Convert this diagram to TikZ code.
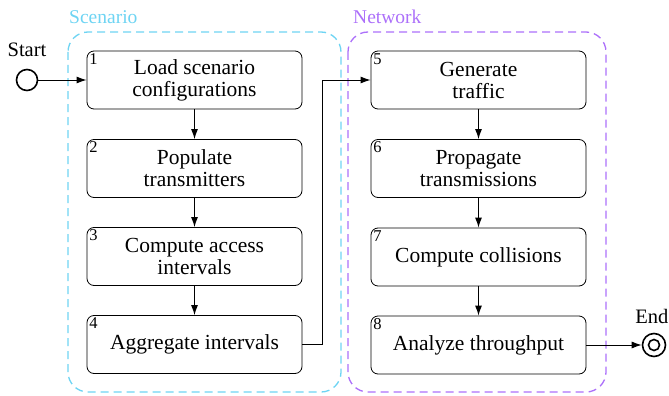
\documentclass[tikz,border=0pt]{standalone}
\usepackage{fontspec}
\setmainfont{Liberation Serif}
\usetikzlibrary{arrows.meta}

\definecolor{scenariocol}{RGB}{110,212,243}
\definecolor{networkcol}{RGB}{172,112,250}

\tikzset{
  stepbox/.style={draw, rounded corners=7pt, minimum width=215pt, minimum height=58pt,
    align=center, line width=0.8pt, font=\fontsize{21.5}{22}\selectfont},
  stepnum/.style={anchor=north west, inner sep=2.5pt, font=\fontsize{16.5}{16.5}\selectfont},
  groupbox/.style={dash pattern=on 8pt off 5pt, line width=1.3pt, rounded corners=20pt},
  grouplabel/.style={anchor=west, inner sep=0pt, font=\fontsize{19.5}{19.5}\selectfont},
  flow/.style={line width=1pt, -{Latex[length=10pt,width=7pt]}},
}

\begin{document}
\begin{tikzpicture}[x=1pt,y=1pt,yscale=-1]
\useasboundingbox (0,0) rectangle (669,396);

%Groups
\draw [groupbox, scenariocol] (68,32) rectangle (341,392);
\node [grouplabel, text=scenariocol] (lblscen) at (69,17) {Scenario};
\draw [groupbox, networkcol] (348,32) rectangle (606,392);
\node [grouplabel, text=networkcol] (lblnet) at (353,17) {Network};

%Start and end
\node [circle, draw, line width=1.6pt, minimum size=21pt, inner sep=0pt] (start) at (27,80) {};
\node [font=\fontsize{20.5}{20.5}\selectfont] (lblstart) at (27,50) {Start};
\node [circle, draw, line width=1.6pt, minimum size=23pt, inner sep=0pt] (end) at (654,345) {};
\draw [line width=1.6pt] (end.center) circle (5.5pt);
\node [font=\fontsize{20.5}{20.5}\selectfont, anchor=east, inner sep=0pt] (lblend) at (668.5,316) {End};

%Scenario steps
\node [stepbox] (s1) at (194.5,80) {Load scenario\\configurations};
\node [stepbox] (s2) at (194.5,168.5) {Populate\\transmitters};
\node [stepbox] (s3) at (194.5,256.5) {Compute access\\intervals};
\node [stepbox] (s4) at (194.5,344.5) {Aggregate intervals};

%Network steps
\node [stepbox] (s5) at (478.5,80) {Generate\\traffic};
\node [stepbox] (s6) at (478.5,168.5) {Propagate\\transmissions};
\node [stepbox] (s7) at (478.5,257) {Compute collisions};
\node [stepbox] (s8) at (478.5,345) {Analyze throughput};

%Step numbers
\foreach \i in {1,...,8}
  \node [stepnum] (n\i) at (s\i.north west) {\i};

%Connectors
\draw [flow] (start) -- (s1);
\draw [flow] (s1) -- (s2);
\draw [flow] (s2) -- (s3);
\draw [flow] (s3) -- (s4);
\draw [flow] (s4.east) -- ++(20,0) |- (s5.west);
\draw [flow] (s5) -- (s6);
\draw [flow] (s6) -- (s7);
\draw [flow] (s7) -- (s8);
\draw [flow] (s8) -- (end);

\end{tikzpicture}
\end{document}
